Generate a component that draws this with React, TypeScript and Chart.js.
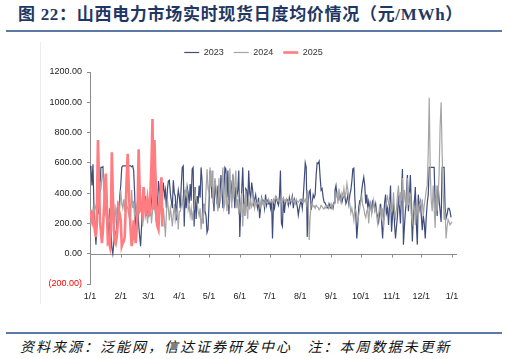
import React, { useEffect, useRef } from "react";
import { Chart, registerables } from "chart.js";
Chart.register(...registerables);

const monthTicks = [0, 31, 59, 90, 120, 151, 181, 212, 243, 273, 304, 334, 365];
const monthLabels = ["1/1", "2/1", "3/1", "4/1", "5/1", "6/1", "7/1", "8/1", "9/1", "10/1", "11/1", "12/1", "1/1"];
const seriesNames = ["2023", "2024", "2025"];

const v2023 = [
  580,560,450,590,300,180,60,200,330,260,420,570,570,575,490,360,300,200,250,110,300,180,40,0,70,150,90,200,330,260,380,
  450,570,580,580,580,580,580,580,580,580,580,575,580,550,400,180,280,350,200,120,50,180,400,420,300,380,250,310,
  260,300,270,350,420,480,400,550,380,300,480,420,300,350,400,470,380,420,300,420,480,485,400,350,300,485,400,380,220,350,420,
  380,300,450,570,580,180,420,300,440,400,330,460,350,560,570,180,440,230,380,330,450,370,570,480,200,330,280,250,140,160,
  330,550,480,370,420,280,485,400,330,450,300,380,520,430,300,420,570,560,370,550,260,400,485,350,520,430,300,440,380,420,550,
  110,300,420,570,330,250,430,420,310,550,400,370,470,420,330,360,390,330,300,370,235,300,370,340,350,300,390,320,350,330,
  340,300,360,100,330,300,350,370,340,320,380,550,200,180,370,270,340,360,355,320,370,330,350,380,300,360,340,345,310,255,300,
  330,350,300,376,485,600,570,110,340,410,420,290,335,390,370,390,520,600,595,610,505,420,430,375,340,335,320,310,300,330,310,
  300,320,300,340,420,450,380,375,360,390,365,340,370,375,390,330,350,390,330,390,420,480,560,565,370,250,100,200,310,350,
  350,420,470,505,450,330,390,300,345,300,330,270,345,330,300,330,270,245,210,270,330,210,100,240,335,390,270,300,190,320,450,
  145,250,335,200,100,180,250,385,300,200,400,560,60,180,280,400,520,280,380,520,300,80,250,340,440,200,60,390,300,340,
  250,155,250,200,100,240,335,390,570,570,570,570,570,570,300,390,250,450,350,280,210,570,570,570,300,235,260,300,300,280,240
];

const v2024 = [
  200,250,230,290,260,320,300,270,400,330,480,420,505,565,380,250,500,380,270,200,230,300,220,280,330,200,300,260,350,290,300,
  420,330,300,360,280,400,320,300,260,330,250,420,300,350,230,270,300,260,320,280,350,300,180,260,300,330,280,200,300,
  260,340,200,280,350,300,260,220,300,330,250,290,330,200,300,220,110,260,360,300,220,300,250,180,260,330,220,260,300,160,280,
  280,310,360,300,360,420,380,410,290,320,250,300,220,280,300,400,360,330,280,250,300,160,250,200,330,280,420,560,430,400,
  570,440,550,330,400,500,440,330,280,500,330,380,470,570,300,330,530,280,350,330,565,400,300,530,370,450,550,300,360,260,320,
  280,400,180,330,250,420,300,230,380,290,350,310,330,360,300,340,320,350,330,340,310,360,330,345,320,350,340,330,360,340,
  340,350,330,360,345,380,370,350,360,340,330,355,340,370,350,345,360,330,350,340,355,345,370,340,350,330,360,345,340,350,360,
  350,340,335,345,360,330,420,340,90,250,320,340,310,315,300,320,310,305,290,300,320,310,300,295,310,300,315,320,300,310,330,
  300,320,330,360,375,400,330,430,370,340,400,380,430,370,400,465,420,350,330,270,300,265,220,300,280,240,220,260,300,345,
  380,320,300,260,240,280,300,200,300,330,260,300,350,280,300,250,200,260,310,280,240,300,170,250,300,355,376,330,350,300,280,
  300,405,280,235,300,390,450,320,405,350,500,330,420,340,300,500,320,400,390,250,210,330,295,190,300,360,250,320,340,300,
  360,250,320,365,420,450,670,1030,555,350,280,450,300,170,450,280,380,535,845,1000,670,420,225,280,100,180,225,210,190,200,210
];

const v2025 = [
  290,250,220,280,200,150,110,300,750,500,220,150,70,150,290,400,530,300,70,80,50,200,670,400,160,90,70,110,200,290,
  260,220,50,70,80,110,300,500,660,450,290,150,50,100,220,150,70,150,290,690,450,290,300,270,440,350,270,300,360,300,
  250,420,600,890,290,750,500,220,180,160,300,400,505,180
];

const colors = ["#3F4C7C", "#A5A5A5", "#FF7C80"];
const widths = [1.2, 1.2, 2.6];

const toPts = (arr: number[]) => arr.map((v, i) => ({ x: i, y: v }));

const zeroLinePlugin = {
  id: "zeroLine",
  afterLayout(chart: any) {
    if (chart.legend) {
      chart.legend.left += 25;
      chart.legend.right += 25;
    }
  },
  beforeDatasetsDraw(chart: any) {
    const { ctx, chartArea, scales } = chart;
    const y0 = Math.round(scales.y.getPixelForValue(0)) + 0.5;
    ctx.save();
    ctx.strokeStyle = "#8c8c8c";
    ctx.lineWidth = 1;
    ctx.beginPath();
    ctx.moveTo(chartArea.left, y0);
    ctx.lineTo(chartArea.right, y0);
    monthTicks.forEach((t) => {
      const px = Math.round(scales.x.getPixelForValue(t)) + 0.5;
      ctx.moveTo(px, y0);
      ctx.lineTo(px, y0 + 3);
    });
    ctx.stroke();
    ctx.restore();
  },
};

export default function App() {
  const ref = useRef<HTMLCanvasElement>(null);
  useEffect(() => {
    const data = [v2023, v2024, v2025];
    const chart = new Chart(ref.current as HTMLCanvasElement, {
      type: "line",
      data: {
        datasets: seriesNames.map((name, i) => ({
          label: name,
          data: toPts(data[i]),
          borderColor: colors[i],
          backgroundColor: colors[i],
          borderWidth: widths[i],
          pointRadius: 0,
          tension: 0,
          order: 3 - i,
        })),
      },
      options: {
        animation: false,
        responsive: false,
        maintainAspectRatio: false,
        layout: { padding: { top: 0, right: 50, left: 0, bottom: 0 } },
        plugins: {
          tooltip: { enabled: false },
          title: {
            display: true,
            text: " ",
            weight: 500,
            font: { size: 1, lineHeight: 1 },
            padding: { top: 0, bottom: 4 },
          },
          legend: {
            position: "top",
            align: "center",
            labels: {
              usePointStyle: true,
              pointStyle: "line",
              pointStyleWidth: 15,
              padding: 10,
              color: "#333333",
              font: { size: 9, family: '"Liberation Sans", Arial, sans-serif' },
              sort: (a: any, b: any) => a.datasetIndex - b.datasetIndex,
            },
          },
        },
        scales: {
          x: {
            type: "linear",
            min: 0,
            max: 370,
            grid: { display: false, drawTicks: false },
            border: { display: false },
            afterBuildTicks: (axis: any) => {
              axis.ticks = monthTicks.map((v) => ({ value: v }));
            },
            afterFit: (s: any) => {
              s.height = 24;
            },
            ticks: {
              autoSkip: false,
              maxRotation: 0,
              padding: 7,
              color: "#222222",
              font: { size: 9, family: '"Liberation Sans", Arial, sans-serif' },
              callback: (_v: any, i: number) => monthLabels[i],
            },
          },
          y: {
            min: -200,
            max: 1200,
            grid: { drawOnChartArea: false, drawTicks: true, tickLength: 3, color: "#8c8c8c" },
            border: { display: true, color: "#8c8c8c" },
            afterFit: (s: any) => {
              s.width = 90;
            },
            ticks: {
              stepSize: 200,
              padding: 5,
              color: (c: any) => (c.tick && c.tick.value < 0 ? "#FF0000" : "#222222"),
              font: { size: 9, family: '"Liberation Sans", Arial, sans-serif' },
              callback: (v: any) => {
                const n = Number(v);
                return n < 0 ? "(" + Math.abs(n).toFixed(2) + ")" : n.toFixed(2);
              },
            },
          },
        },
      },
      plugins: [zeroLinePlugin],
    } as any);
    return () => chart.destroy();
  }, []);

  return (
    <div style={{ position: "absolute", left: 0, top: 0, width: 507, height: 359, background: "#fff", overflow: "hidden" }}>
      <div
        style={{
          position: "absolute",
          left: 18,
          top: 5,
          fontFamily: '"Liberation Serif", "Noto Sans CJK SC", serif',
          fontWeight: 700,
          fontSize: 17,
          letterSpacing: 0.7,
          color: "#1F3763",
          whiteSpace: "nowrap",
          lineHeight: "20px",
        }}
      >
        图 22：山西电力市场实时现货日度均价情况（元/MWh）
      </div>
      <div style={{ position: "absolute", left: 6, top: 30, width: 496, height: 2, background: "#5B7BA6" }} />
      <div style={{ position: "absolute", left: 40, top: 42, width: 1, height: 262, background: "#ececec" }} />
      <div style={{ position: "absolute", left: 0, top: 38, width: 507, height: 270 }}>
        <canvas ref={ref} width={507} height={270} style={{ width: 507, height: 270, display: "block" }} />
      </div>
      <div style={{ position: "absolute", left: 6, top: 332, width: 496, height: 2, background: "#5B7BA6" }} />
      <div
        style={{
          position: "absolute",
          left: 20,
          top: 337,
          fontFamily: '"Noto Sans CJK SC", sans-serif',
          fontStyle: "italic",
          fontSize: 14,
          letterSpacing: 2,
          color: "#111111",
          whiteSpace: "pre",
          lineHeight: "18px",
        }}
      >
        资料来源：泛能网，信达证券研发中心   注：本周数据未更新
      </div>
    </div>
  );
}
